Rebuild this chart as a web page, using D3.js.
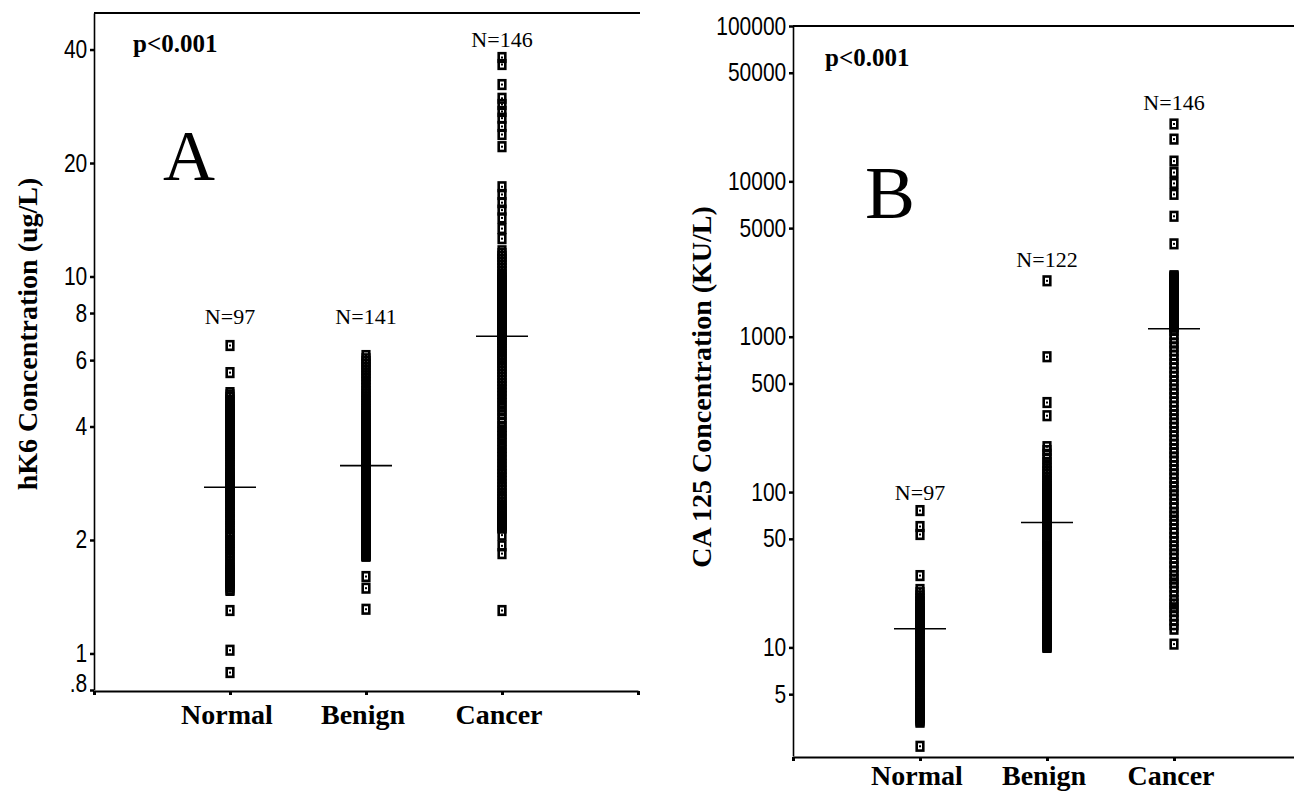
<!DOCTYPE html>
<html>
<head>
<meta charset="utf-8">
<script src="https://cdn.jsdelivr.net/npm/d3@7"></script>
<style>
body { margin: 0; background: #fff; }
svg { display: block; }
</style>
</head>
<body>
<svg id="chart" width="1294" height="791"></svg>
<script>
const groups = ["Normal", "Benign", "Cancer"];

// panel A - hK6 (ug/L)
const hk6Normal = [6.56, 5.56,
  4.92, 4.85, 4.78, 4.7, 4.62, 4.55, 4.5, 4.45, 4.4, 4.35,
  4.3, 4.25, 4.2, 4.15, 4.1, 4.05, 4.0, 3.95, 3.9, 3.85,
  3.8, 3.75, 3.7, 3.65, 3.6, 3.55, 3.5, 3.45, 3.4, 3.35,
  3.3, 3.25, 3.2, 3.15, 3.1, 3.05, 3.0, 2.97, 2.94, 2.91,
  2.88, 2.86, 2.84, 2.82, 2.8, 2.79,
  2.76, 2.73, 2.7, 2.67, 2.64, 2.6, 2.57, 2.54, 2.5, 2.47,
  2.44, 2.4, 2.37, 2.34, 2.3, 2.27, 2.24, 2.2, 2.17, 2.14,
  2.1, 2.07, 2.04, 2.0, 1.97, 1.94, 1.91, 1.88, 1.85, 1.82,
  1.79, 1.76, 1.73, 1.7, 1.68, 1.66, 1.64, 1.62, 1.6, 1.58,
  1.56, 1.54, 1.52, 1.5, 1.48, 1.47,
  1.30, 1.02, 0.89];
const hk6Benign = [6.17, 6.05, 5.95, 5.85, 5.75, 5.65, 5.55, 5.45, 5.35, 5.25,
  5.15, 5.05, 4.95, 4.88, 4.8, 4.72, 4.65, 4.58, 4.5, 4.44,
  4.38, 4.32, 4.26, 4.2, 4.15, 4.1, 4.05, 4.0, 3.96, 3.92,
  3.88, 3.84, 3.8, 3.77, 3.74, 3.71, 3.68, 3.65, 3.62, 3.59,
  3.56, 3.53, 3.5, 3.48, 3.46, 3.44, 3.42, 3.4, 3.38, 3.36,
  3.34, 3.32, 3.3, 3.29, 3.28, 3.27, 3.26, 3.25, 3.24, 3.23,
  3.22, 3.21, 3.2, 3.2, 3.19, 3.18, 3.17, 3.17, 3.16, 3.16,
  3.15,
  3.12, 3.09, 3.06, 3.03, 3.0, 2.97, 2.94, 2.92, 2.89, 2.86,
  2.84, 2.81, 2.79, 2.76, 2.74, 2.71, 2.69, 2.66, 2.64, 2.62,
  2.59, 2.57, 2.55, 2.53, 2.5, 2.48, 2.46, 2.44, 2.42, 2.4,
  2.38, 2.36, 2.34, 2.32, 2.3, 2.28, 2.26, 2.24, 2.22, 2.2,
  2.18, 2.16, 2.15, 2.13, 2.11, 2.09, 2.08, 2.06, 2.04, 2.03,
  2.01, 1.99, 1.98, 1.96, 1.95, 1.93, 1.92, 1.9, 1.89, 1.87,
  1.86, 1.85, 1.84, 1.83, 1.82, 1.82, 1.81,
  1.60, 1.49, 1.31];
const hk6Cancer = [38.1, 36.5, 32.3, 29.7, 28.6, 27.4, 26.3, 25.0, 23.8, 22.1,
  17.3, 16.5, 15.7, 15.0, 14.3, 13.4, 12.6,
  11.7, 11.5, 11.3, 11.1, 10.9, 10.7, 10.5, 10.3, 10.1, 10.0,
  9.9, 9.8, 9.7, 9.6, 9.5, 9.4, 9.3, 9.2, 9.1, 9.0,
  8.9, 8.8, 8.7, 8.6, 8.5, 8.45, 8.4, 8.35, 8.3, 8.25,
  8.2, 8.15, 8.1, 8.05, 8.0, 7.95, 7.9, 7.85, 7.8, 7.75,
  7.7, 7.65, 7.6, 7.55, 7.5, 7.45, 7.4, 7.35, 7.3, 7.25,
  7.2, 7.15, 7.1, 7.06, 7.02, 6.99,
  6.9, 6.8, 6.7, 6.6, 6.5, 6.4, 6.3, 6.2, 6.1, 6.0,
  5.9, 5.8, 5.7, 5.6, 5.5, 5.4, 5.3, 5.2, 5.1, 5.0,
  4.9, 4.8, 4.7, 4.6, 4.5, 4.4, 4.3, 4.2, 4.1, 4.0,
  3.92, 3.84, 3.76, 3.68, 3.6, 3.52, 3.45, 3.38, 3.31, 3.24,
  3.17, 3.1, 3.04, 2.98, 2.92, 2.86, 2.8, 2.75, 2.7, 2.65,
  2.6, 2.56, 2.52, 2.48, 2.44, 2.41, 2.38, 2.35, 2.32, 2.29,
  2.27, 2.25, 2.23, 2.21, 2.2, 2.19, 2.18, 2.16, 2.15,
  2.06, 1.93, 1.84, 1.30];
const hk6Ticks = [0.8, 1, 2, 4, 6, 8, 10, 20, 40];
const hk6LabelAt = [7.5, 7.5, 40.5];

// panel B - CA 125 (KU/L)
const caNormal = [76, 60, 53.3, 29,
  23.6, 22.5, 21.5, 20.5, 19.8, 19.2, 18.6, 18.0, 17.5, 17.0,
  16.6, 16.3, 16.0, 15.8, 15.6, 15.4, 15.2, 15.0, 14.9, 14.8,
  14.7, 14.6, 14.5, 14.4, 14.3, 14.2, 14.1, 14.0, 13.95, 13.9,
  13.85, 13.8, 13.75, 13.7, 13.65, 13.6, 13.55, 13.5, 13.45, 13.42,
  13.39, 13.36, 13.33, 13.3,
  13.2,
  13.0, 12.6, 12.2, 11.8, 11.4, 11.0, 10.6, 10.2, 9.9, 9.6,
  9.3, 9.0, 8.7, 8.4, 8.1, 7.8, 7.6, 7.4, 7.2, 7.0,
  6.8, 6.6, 6.4, 6.2, 6.0, 5.8, 5.6, 5.4, 5.2, 5.0,
  4.85, 4.7, 4.55, 4.4, 4.3, 4.2, 4.1, 4.0, 3.9, 3.8,
  3.7, 3.6, 3.55, 3.5, 3.42, 3.36, 3.3,
  2.31];
const caBenign = [2290, 743, 377, 310,
  196, 185, 175, 165, 155, 148, 141, 135, 130, 125,
  120, 116, 112, 108, 105, 102, 99, 97, 95, 93,
  91, 89, 87, 85.5, 84, 82.5, 81, 80, 79, 78,
  77, 76, 75, 74, 73, 72.2, 71.4, 70.6, 69.8, 69,
  68.4, 67.8, 67.2, 66.8, 66.4, 66, 65.8, 65.6, 65.4, 65.2,
  65, 64.9, 64.8, 64.7, 64.6, 64.5, 64.4,
  63, 61, 59, 57, 55, 53, 51, 49.5, 48, 46.5,
  45, 43.5, 42, 40.5, 39, 37.5, 36, 35, 34, 33,
  32, 31, 30, 29, 28, 27, 26, 25, 24.2, 23.4,
  22.6, 21.8, 21, 20.3, 19.6, 19, 18.4, 17.8, 17.2, 16.7,
  16.2, 15.7, 15.2, 14.8, 14.4, 14, 13.6, 13.2, 12.8, 12.5,
  12.2, 11.9, 11.6, 11.3, 11, 10.8, 10.6, 10.4, 10.2, 10.1,
  10];
const caCancer = [23400, 18700, 13500, 11400, 9700, 8250, 5960, 3960,
  2470, 2440, 2410, 2380, 2350, 2320, 2290, 2260, 2235, 2210,
  2180, 2155, 2130, 2100, 2075, 2050, 2025, 2000, 1975, 1950,
  1930, 1905, 1880, 1860, 1840, 1815, 1795, 1775, 1750, 1730,
  1710, 1690, 1670, 1650, 1630, 1610, 1590, 1570, 1555, 1535,
  1515, 1500, 1480, 1465, 1445, 1430, 1410, 1395, 1380, 1360,
  1345, 1330, 1315, 1300, 1285, 1270, 1255, 1240, 1225, 1210,
  1200, 1185, 1170, 1160, 1150,
  1100, 1030, 970, 910, 860, 810, 760, 715, 670, 630,
  590, 555, 520, 490, 460, 432, 405, 380, 357, 335,
  315, 296, 278, 261, 245, 230, 216, 203, 190, 179,
  168, 158, 148, 139, 131, 123, 115, 108, 102, 96,
  90, 84, 79, 74, 70, 66, 62, 58, 54.5, 51,
  48, 45, 42.5, 40, 37.5, 35, 33, 31, 29, 27.5,
  26, 24.5, 23, 21.5, 20, 19, 18, 17, 16, 15,
  14, 13.1,
  10.5];
const caTicks = [5, 10, 50, 100, 500, 1000, 5000, 10000, 50000, 100000];
const caLabelAt = [89, 2800, 29000];

const svg = d3.select("#chart");
const serif = "Liberation Serif, Times New Roman, serif";

renderPanel({
    series: [hk6Normal, hk6Benign, hk6Cancer],
    ticks: hk6Ticks, labelAt: hk6LabelAt,
    domain: [0.8, 50], yRange: [690, 13],
    xRange: [94, 638], topEnd: 640,
    title: "hK6 Concentration (ug/L)", titlePos: [37, 334],
    letter: "A", letterPos: [163, 180], letterSize: 72,
    pPos: [133, 52], catGap: 34, lowLabelShift: -7
});

renderPanel({
    series: [caNormal, caBenign, caCancer],
    ticks: caTicks, labelAt: caLabelAt,
    domain: [2, 100000], yRange: [756, 26],
    xRange: [793, 1301], topEnd: 1294,
    title: "CA 125 Concentration (KU/L)", titlePos: [711, 387],
    letter: "B", letterPos: [865, 218], letterSize: 75,
    pPos: [825, 66], catGap: 29, lowLabelShift: 0
});

function renderPanel(cfg){

    const x = d3.scaleLinear().domain([0, 4]).range(cfg.xRange);
    const y = d3.scaleLog().domain(cfg.domain).range(cfg.yRange);
    const x0 = cfg.xRange[0], yBottom = cfg.yRange[0], yTop = cfg.yRange[1];

    // top frame line
    svg.append("line")
        .attr("x1", x0).attr("x2", cfg.topEnd)
        .attr("y1", yTop).attr("y2", yTop)
        .attr("stroke", "#000").attr("stroke-width", 2);

    // Y axis (narrow labels: sans squeezed horizontally)
    const fmt = d => d < 1 ? String(d).replace(/^0/, "") : String(d);
    const gy = svg.append("g")
        .attr("transform", "translate(" + x0 + ",0)")
        .call(d3.axisLeft(y).tickValues(cfg.ticks).tickFormat(fmt)
            .tickSize(4).tickSizeOuter(0).tickPadding(3));
    gy.select(".domain").attr("stroke-width", 1.6);
    gy.selectAll(".tick line").attr("stroke-width", 2.5);
    gy.selectAll(".tick text")
        .attr("font-family", "Liberation Sans, Arial, sans-serif")
        .attr("font-size", 25)
        .attr("fill", "#000")
        .attr("x", -8)
        .attr("transform", "scale(0.84,1)")
        .attr("dy", d => d === cfg.domain[0] ? (0.32 * 25 + cfg.lowLabelShift) + "px" : "0.32em");

    // X axis
    const gx = svg.append("g")
        .attr("transform", "translate(0," + (yBottom + 1) + ")")
        .call(d3.axisBottom(x).tickValues([0, 1, 2, 3, 4]).tickFormat("")
            .tickSize(4).tickSizeOuter(0));
    gx.select(".domain").attr("stroke-width", 2);
    gx.selectAll(".tick line").attr("stroke-width", 3);

    svg.selectAll(null)
        .data(groups)
        .enter().append("text")
        .attr("x", (d, i) => x(i + 1) - 3)
        .attr("y", yBottom + cfg.catGap)
        .attr("text-anchor", "middle")
        .attr("font-family", serif)
        .attr("font-weight", "bold")
        .attr("font-size", 28)
        .text(d => d);

    // points: white boxes first, then all outlines on top so stacks merge
    cfg.series.forEach((vals, i) => {
        const cx = x(i + 1);
        const g = svg.append("g");
        g.selectAll("rect.bg")
            .data(vals)
            .enter().append("rect")
            .attr("class", "bg")
            .attr("x", cx - 4.6).attr("y", d => y(d) - 5.6)
            .attr("width", 9.2).attr("height", 11.2)
            .attr("fill", "#fff");
        g.selectAll("rect.box")
            .data(vals)
            .enter().append("rect")
            .attr("class", "box")
            .attr("x", cx - 3.3).attr("y", d => y(d) - 4.3)
            .attr("width", 6.6).attr("height", 8.6)
            .attr("fill", "none")
            .attr("stroke", "#000")
            .attr("stroke-width", 2.6);
        g.selectAll("rect.dot")
            .data(vals)
            .enter().append("rect")
            .attr("class", "dot")
            .attr("x", cx - 1).attr("y", d => y(d) - 1)
            .attr("width", 2).attr("height", 2)
            .attr("fill", "#000");

        // median line
        const med = d3.median(vals);
        svg.append("line")
            .attr("x1", cx - 26).attr("x2", cx + 26)
            .attr("y1", y(med)).attr("y2", y(med))
            .attr("stroke", "#000").attr("stroke-width", 1.6);

        svg.append("text")
            .attr("x", cx)
            .attr("y", y(cfg.labelAt[i]))
            .attr("text-anchor", "middle")
            .attr("font-family", serif)
            .attr("font-size", 22)
            .text("N=" + vals.length);
    });

    svg.append("text")
        .attr("x", cfg.pPos[0]).attr("y", cfg.pPos[1])
        .attr("font-family", serif)
        .attr("font-weight", "bold")
        .attr("font-size", 25)
        .text("p<0.001");

    svg.append("text")
        .attr("x", cfg.letterPos[0]).attr("y", cfg.letterPos[1])
        .attr("font-family", serif)
        .attr("font-size", cfg.letterSize)
        .text(cfg.letter);

    svg.append("text")
        .attr("transform", "translate(" + cfg.titlePos[0] + "," + cfg.titlePos[1] + ") rotate(-90)")
        .attr("text-anchor", "middle")
        .attr("font-family", serif)
        .attr("font-weight", "bold")
        .attr("font-size", 28)
        .text(cfg.title);
}
</script>
</body>
</html>
